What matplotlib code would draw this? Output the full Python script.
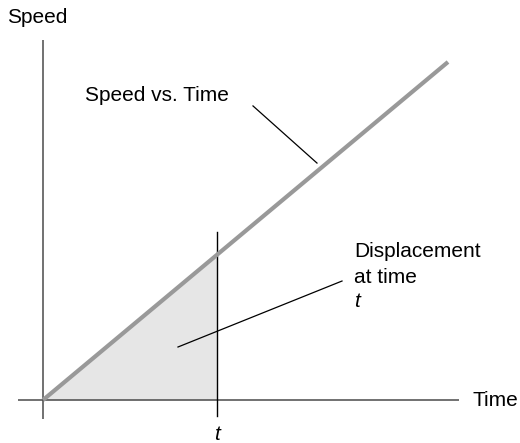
import numpy as np
import matplotlib
matplotlib.use('Agg')
import matplotlib.pyplot as plt

plt.rcParams['font.family'] = ['Liberation Sans', 'DejaVu Sans']

# speed grows linearly with time
time = [0.0, 10.0]
speed = [0.0, 10.0]
t_mark = 4.3

# axis extents
time_axis = [-0.62, 10.27]
speed_axis = [-0.56, 10.65]
t_line = [-0.47, 4.97]

# callout leaders: (x0, y0, x1, y1)
line_leader = [5.185, 8.70, 6.765, 7.01]
area_leader = [3.333, 1.568, 7.383, 3.52]

fig = plt.figure(figsize=(5.2, 4.43), dpi=100)
ax = fig.add_axes([0, 0, 1, 1])
ax.set_xlim(-1.062, 11.778)
ax.set_ylim(-1.272, 11.834)
ax.axis('off')

fs = 15
# axes
ax.plot(time_axis, [0, 0], color='#4a4a4a', lw=1.1, solid_capstyle='butt')
ax.plot([0, 0], speed_axis, color='#4a4a4a', lw=1.1, solid_capstyle='butt')

# shaded area under the line up to t
tt = np.array([0.0, t_mark])
ax.fill_between(tt, 0, np.interp(tt, time, speed), color='#e6e6e6', lw=0)

ax.plot([t_mark, t_mark], t_line, color='black', lw=1.0)
ax.plot(time, speed, color='#999999', lw=3.0, solid_capstyle='butt')

ax.plot(line_leader[0::2], line_leader[1::2], color='black', lw=0.9)
ax.plot(area_leader[0::2], area_leader[1::2], color='black', lw=0.9)

ax.text(-0.889, 11.33, 'Speed', fontsize=fs, va='center', ha='left')
ax.text(10.617, 0, 'Time', fontsize=fs, va='center', ha='left')
ax.text(1.037, 9.02, 'Speed vs. Time', fontsize=fs, va='center', ha='left')
ax.text(7.679, 4.23, 'Displacement', fontsize=fs, va='baseline', ha='left')
ax.text(7.679, 3.46, 'at time', fontsize=fs, va='baseline', ha='left')
ax.text(7.679, 2.75, 't', fontsize=fs, va='baseline', ha='left', style='italic')
ax.text(t_mark, -1.006, 't', fontsize=fs, va='center', ha='center', style='italic')

fig.savefig('out.png', dpi=100)
